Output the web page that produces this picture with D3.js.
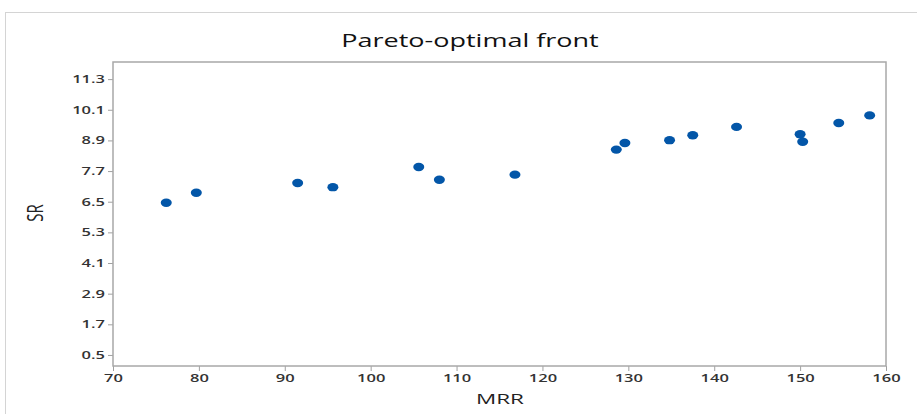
<!DOCTYPE html>
<html>
<head>
<meta charset="utf-8">
<script src="https://cdn.jsdelivr.net/npm/d3@7"></script>
<style>
  body { margin: 0; background: #fff; }
  text { font-family: "Open Sans", "DejaVu Sans", sans-serif; }
</style>
</head>
<body>
<div id="chart-area"></div>
<script>
    // MRR vs SR points
    var mrr = [76.2, 79.7, 91.5, 95.6, 105.6, 108.0, 116.8, 128.6, 129.6, 134.8, 137.5, 142.6, 150.0, 150.3, 154.5, 158.1];
    var sr = [6.46, 6.85, 7.23, 7.07, 7.86, 7.36, 7.56, 8.54, 8.80, 8.91, 9.10, 9.43, 9.14, 8.85, 9.58, 9.88];
    var xTicks = [70, 80, 90, 100, 110, 120, 130, 140, 150, 160];
    var yTicks = [0.5, 1.7, 2.9, 4.1, 5.3, 6.5, 7.7, 8.9, 10.1, 11.3];

    var margin = { left: 113, right: 31, top: 62, bottom: 48 };
    var W = 917, H = 414;
    var width = W - margin.left - margin.right;
    var height = H - margin.top - margin.bottom;
    var stretch = 1.5; // the reference text is drawn wide

    var svg = d3.select('#chart-area')
        .append('svg')
        .attr('width', W)
        .attr('height', H);

    // outer frame
    svg.append('rect')
        .attr('x', 5.5).attr('y', 12.5)
        .attr('width', W).attr('height', H)
        .attr('fill', 'none')
        .attr('stroke', '#d4d4d4');

    var g = svg.append('g').attr('transform', `translate(${margin.left},${margin.top})`);

    var xScale = d3.scaleLinear().domain([70, 160]).range([0, width]);
    var yScale = d3.scaleLinear().domain([0.068, 11.97]).range([height, 0]);

    var xAxisCall = d3.axisBottom(xScale).tickValues(xTicks).tickSize(5).tickPadding(3).tickFormat(d3.format('d'));
    var yAxisCall = d3.axisLeft(yScale).tickValues(yTicks).tickSize(5).tickPadding(3).tickFormat(d3.format('.1f'));

    var xAx = g.append('g')
        .attr('transform', `translate(0, ${height})`)
        .call(xAxisCall);
    var yAx = g.append('g').call(yAxisCall);

    [xAx, yAx].forEach((ax) => {
        ax.select('.domain').remove();
        ax.selectAll('line').attr('stroke', '#a0a0a0');
        ax.selectAll('text')
            .attr('font-size', '11px')
            .attr('font-weight', 600)
            .attr('fill', '#333')
            .style('font-family', '"Open Sans", sans-serif');
    });
    xAx.selectAll('text').attr('transform', `scale(${stretch},1)`);
    yAx.selectAll('text').attr('x', 0).attr('transform', `translate(-8,0) scale(${stretch},1)`);

    // plot frame
    g.append('rect')
        .attr('x', 0).attr('y', 0)
        .attr('width', width).attr('height', height)
        .attr('fill', 'none')
        .attr('stroke', '#a8a8a8')
        .attr('stroke-width', 1.5);

    g.selectAll('ellipse')
        .data(mrr.map((m, i) => ({ m: m, s: sr[i] })))
        .enter()
        .append('ellipse')
        .attr('cx', (d) => xScale(d.m))
        .attr('cy', (d) => yScale(d.s))
        .attr('rx', 5.5)
        .attr('ry', 4.2)
        .attr('fill', '#0356a8');

    svg.append('text')
        .attr('transform', `translate(470, 47) scale(${stretch},1)`)
        .attr('text-anchor', 'middle')
        .attr('font-size', '18px')
        .attr('fill', '#111')
        .text('Pareto-optimal front');

    svg.append('text')
        .attr('transform', `translate(500, 404) scale(${stretch},1)`)
        .attr('text-anchor', 'middle')
        .attr('font-size', '15px')
        .attr('fill', '#222')
        .text('MRR');

    svg.append('text')
        .attr('transform', `translate(43, 213) scale(${stretch},1) rotate(-90)`)
        .attr('text-anchor', 'middle')
        .attr('font-size', '15px')
        .attr('fill', '#222')
        .text('SR');
</script>
</body>
</html>
